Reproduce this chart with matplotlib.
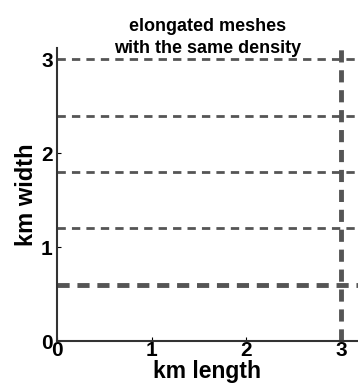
import matplotlib.pyplot as plt

# Mesh line positions (km)
row_positions = [0.6, 1.2, 1.8, 2.4, 3.0]
row_widths = [3.5, 2.0, 2.0, 2.0, 2.0]
col_positions = [3.0]
ticks = [0, 1, 2, 3]

plt.rcParams['font.family'] = ['Liberation Sans', 'DejaVu Sans']
plt.rcParams['font.weight'] = 'bold'

fig = plt.figure(figsize=(3.58, 3.92), dpi=100)
ax = fig.add_axes([0.159, 0.130, 0.841, 0.747])

line_color = '#555555'
for y, w in zip(row_positions, row_widths):
    ax.axhline(y, color=line_color, lw=w, ls=(0, (3, 2.2)) if w < 3 else (0, (2.5, 1.6)))
for x in col_positions:
    ax.axvline(x, color=line_color, lw=3.5, ls=(0, (2.5, 1.6)))

ax.set_xlim(0, 3.18)
ax.set_ylim(0, 3.12)
ax.set_xticks(ticks)
ax.set_yticks(ticks)
ax.tick_params(direction='in', length=3, labelsize=15)
ax.tick_params(axis='x', pad=0)
ax.tick_params(axis='y', pad=3)
for s in ['top', 'right']:
    ax.spines[s].set_visible(False)
for s in ['left', 'bottom']:
    ax.spines[s].set_color('#333333')
    ax.spines[s].set_linewidth(1.5)

ax.set_xlabel('km length', fontsize=16.5, fontweight='bold', labelpad=0)
ax.set_ylabel('km width', fontsize=17, fontweight='bold', labelpad=2)
ax.set_title('elongated meshes\nwith the same density', fontsize=13,
             fontweight='bold', linespacing=1.35, y=0.985, pad=0)

fig.savefig('out.png', dpi=100)
